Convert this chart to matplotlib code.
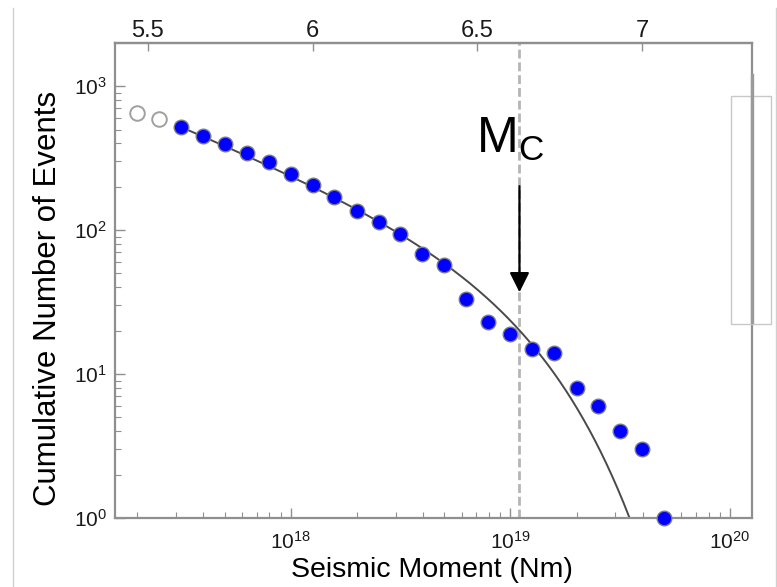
import numpy as np
import matplotlib
matplotlib.use('Agg')
import matplotlib.pyplot as plt
from matplotlib.lines import Line2D
from matplotlib.patches import Rectangle
from matplotlib.ticker import LogLocator, NullFormatter

plt.rcParams['font.family'] = ['Liberation Sans', 'DejaVu Sans']
plt.rcParams['mathtext.fontset'] = 'custom'
plt.rcParams['mathtext.rm'] = 'Liberation Sans'
plt.rcParams['mathtext.it'] = 'Liberation Sans:italic'
plt.rcParams['mathtext.bf'] = 'Liberation Sans:bold'

# ---- data ----
below_moment = [2.0e17, 2.51e17]
below_count = [655, 590]
moment = [3.16e17, 3.98e17, 5.01e17, 6.31e17, 7.94e17, 1.0e18, 1.26e18,
          1.58e18, 2.0e18, 2.51e18, 3.16e18, 3.98e18, 5.01e18, 6.31e18,
          7.94e18, 1.0e19, 1.26e19, 1.58e19, 2.0e19, 2.51e19, 3.16e19,
          3.98e19, 5.01e19]
count = [520, 450, 395, 345, 295, 245, 207, 169, 136, 114, 94, 68, 57, 33,
         23, 19, 15, 14, 8, 6, 4, 3, 1]

# tapered Gutenberg-Richter fit parameters
fit_N0 = 521.0
fit_Mt = 3.16e17
fit_beta = 0.63
fit_corner = 1.05e19
mc_line = 1.1e19

mw_ticks = [5.5, 6, 6.5, 7]
mw_labels = ['5.5', '6', '6.5', '7']

# ---- figure ----
fig = plt.figure(figsize=(7.77, 5.87), dpi=100)
W, H = 777, 587
L, R, T, B = 115, 752, 43, 518
ax = fig.add_axes([L / W, 1 - B / H, (R - L) / W, (B - T) / H])
ax.set_xscale('log')
ax.set_yscale('log')
ax.set_xlim(10 ** 17.2, 10 ** 20.1)
ax.set_ylim(1, 10 ** 3.3)

spine_c = '#8f8f8f'
for s in ax.spines.values():
    s.set_color(spine_c)
    s.set_linewidth(1.6)

# dashed Mc line
ax.axvline(mc_line, color='#b5b5b5', lw=2.0, dashes=[3.2, 1.4], zorder=1)

# fit curve
mgrid = np.logspace(np.log10(fit_Mt), 19.6, 400)
nfit = fit_N0 * (mgrid / fit_Mt) ** (-fit_beta) * np.exp((fit_Mt - mgrid) / fit_corner)
ax.plot(mgrid, nfit, color='#4a4a4a', lw=1.4, zorder=2)

# points
ax.plot(below_moment, below_count, 'o', ms=10.5, mfc='none', mec='#a0a0a0',
        mew=1.4, zorder=3)
ax.plot(moment, count, 'o', ms=10.5, mfc='#0000ff', mec='#7a7a8a', mew=1.0,
        zorder=3, clip_on=False)

# Mc annotation
ax.annotate('', xy=(mc_line, 37), xytext=(mc_line, 202),
            arrowprops=dict(arrowstyle='-|>,head_length=0.8,head_width=0.4',
                            mutation_scale=15, color='black', lw=1.6,
                            shrinkA=0, shrinkB=0), zorder=4)
ax.text(1.0e19, 343, r'$\mathregular{M_C}$', fontsize=36, ha='center',
        va='baseline', color='black')

# ticks
ax.xaxis.set_major_locator(LogLocator(base=10, numticks=10))
ax.xaxis.set_minor_locator(LogLocator(base=10, subs=np.arange(2, 10), numticks=20))
ax.xaxis.set_minor_formatter(NullFormatter())
ax.yaxis.set_major_locator(LogLocator(base=10, numticks=10))
ax.yaxis.set_minor_locator(LogLocator(base=10, subs=np.arange(2, 10), numticks=20))
ax.yaxis.set_minor_formatter(NullFormatter())
ax.tick_params(which='both', direction='in', color=spine_c, top=False,
               right=False, labelcolor='#1a1a1a')
ax.tick_params(which='major', length=7, width=1.0, labelsize=15)
ax.tick_params(axis='x', which='major', pad=9)
ax.tick_params(axis='y', which='major', pad=6)
ax.tick_params(which='minor', length=4, width=0.8)

ax.set_xlabel('Seismic Moment (Nm)', fontsize=20.5, va='top')
ax.xaxis.set_label_coords(0.4976, -0.083)
ax.set_ylabel('Cumulative Number of Events', fontsize=22.5)
ax.yaxis.set_label_coords(-0.0816, 0.463)


def m0_to_mw(m):
    m = np.asarray(m, dtype=float)
    return (2.0 / 3.0) * (np.log10(np.maximum(m, 1e-300)) - 9.1)


def mw_to_m0(w):
    w = np.asarray(w, dtype=float)
    return 10 ** (1.5 * w + 9.1)


sec = ax.secondary_xaxis('top', functions=(m0_to_mw, mw_to_m0))
sec.set_xticks(mw_ticks)
sec.set_xticklabels(mw_labels)
sec.minorticks_off()
sec.tick_params(direction='in', length=6, width=1.0, color=spine_c,
                labelsize=17, pad=1, labelcolor='#1a1a1a')
sec.spines['top'].set_color(spine_c)
sec.spines['top'].set_linewidth(1.6)

# figure decorations (frame lines and side box)
fig.add_artist(Line2D([13 / W, 13 / W], [0, 1 - 8 / H], color='#d0d0d0', lw=1.0))
fig.add_artist(Line2D([776 / W, 776 / W], [0, 1 - 8 / H], color='#d0d0d0', lw=1.0))
fig.add_artist(Rectangle((731 / W, 1 - 324 / H), 40 / W, 228 / H,
                         fill=False, ec='#c8c8c8', lw=1.0))
fig.add_artist(Line2D([752 / W, 752 / W], [1 - 75 / H, 1 - 322 / H],
                      color='#9a9a9a', lw=2.4))

fig.savefig('out.png', dpi=100)
